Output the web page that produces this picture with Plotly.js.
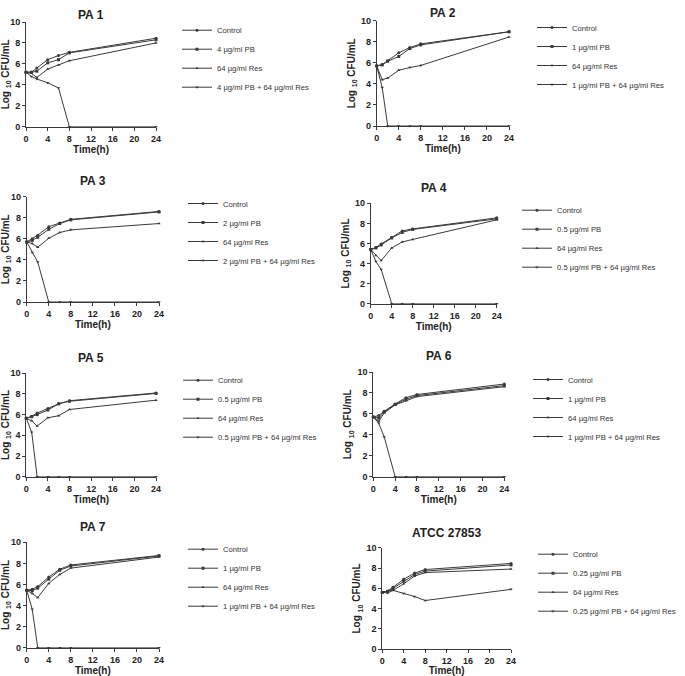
<!DOCTYPE html>
<html><head><meta charset="utf-8">
<script src="https://cdn.plot.ly/plotly-3.0.1.min.js"></script>
<style>html,body{margin:0;padding:0;background:#fff;overflow:hidden}#chart{width:685px;height:676px}</style>
</head><body><div id="chart"></div>
<script>
// ---------- data ----------
const times = [0, 1, 2, 4, 6, 8, 24];
const panelTitles = ['PA 1', 'PA 2', 'PA 3', 'PA 4', 'PA 5', 'PA 6', 'PA 7', 'ATCC 27853'];
const pbDoses = ['4', '1', '2', '0.5', '0.5', '1', '1', '0.25'];
const xTicks = [0, 4, 8, 12, 16, 20, 24];
const yTicks = [0, 2, 4, 6, 8, 10];

const pa1Control = [5.2, 5.2, 5.6, 6.4, 6.8, 7.1, 8.45];
const pa1PB      = [5.2, 5.2, 5.3, 6.1, 6.4, 7.05, 8.3];
const pa1Res     = [5.2, 5.1, 4.7, 5.5, 5.9, 6.3, 8.0];
const pa1Combo   = [5.2, 4.8, 4.55, 4.2, 3.7, 0, 0];

const pa2Control = [5.7, 5.85, 6.2, 6.95, 7.45, 7.8, 8.95];
const pa2PB      = [5.7, 5.8, 6.15, 6.6, 7.35, 7.7, 8.95];
const pa2Res     = [5.7, 4.4, 4.55, 5.3, 5.55, 5.75, 8.45];
const pa2Combo   = [5.7, 3.65, 0, 0, 0, 0, 0];

const pa3Control = [5.7, 6.0, 6.35, 7.15, 7.5, 7.85, 8.6];
const pa3PB      = [5.7, 5.85, 6.15, 6.9, 7.45, 7.8, 8.55];
const pa3Res     = [5.7, 5.55, 5.2, 6.05, 6.6, 6.85, 7.45];
const pa3Combo   = [5.7, 4.7, 3.8, 0, 0, 0, 0];

const pa4Control = [5.4, 5.6, 5.95, 6.6, 7.25, 7.45, 8.55];
const pa4PB      = [5.4, 5.55, 5.85, 6.55, 7.1, 7.4, 8.45];
const pa4Res     = [5.4, 4.8, 4.3, 5.55, 6.15, 6.4, 8.35];
const pa4Combo   = [5.4, 4.2, 3.4, 0, 0, 0, 0];

const pa5Control = [5.65, 5.85, 6.15, 6.6, 7.05, 7.35, 8.1];
const pa5PB      = [5.65, 5.8, 6.0, 6.45, 7.05, 7.3, 8.05];
const pa5Res     = [5.65, 5.4, 4.9, 5.7, 5.9, 6.5, 7.4];
const pa5Combo   = [5.65, 4.3, 0, 0, 0, 0, 0];

const pa6Control = [5.7, 5.85, 6.25, 6.95, 7.55, 7.85, 8.85];
const pa6PB      = [5.7, 5.6, 6.2, 6.9, 7.4, 7.75, 8.7];
const pa6Res     = [5.7, 5.3, 6.1, 6.85, 7.25, 7.65, 8.6];
const pa6Combo   = [5.7, 5.1, 3.8, 0, 0, 0, 0];

const pa7Control = [5.45, 5.55, 5.8, 6.7, 7.45, 7.85, 8.75];
const pa7PB      = [5.45, 5.4, 5.65, 6.5, 7.35, 7.75, 8.7];
const pa7Res     = [5.45, 5.15, 4.75, 6.1, 6.95, 7.55, 8.6];
const pa7Combo   = [5.45, 3.65, 0, 0, 0, 0, 0];

const atccControl = [5.6, 5.75, 6.1, 6.9, 7.5, 7.85, 8.45];
const atccPB      = [5.6, 5.7, 6.0, 6.7, 7.35, 7.7, 8.3];
const atccRes     = [5.6, 5.55, 5.8, 6.45, 7.2, 7.55, 7.9];
const atccCombo   = [5.6, 5.75, 5.8, 5.5, 5.2, 4.8, 5.9];

const panelData = [
  [pa1Control, pa1PB, pa1Res, pa1Combo],
  [pa2Control, pa2PB, pa2Res, pa2Combo],
  [pa3Control, pa3PB, pa3Res, pa3Combo],
  [pa4Control, pa4PB, pa4Res, pa4Combo],
  [pa5Control, pa5PB, pa5Res, pa5Combo],
  [pa6Control, pa6PB, pa6Res, pa6Combo],
  [pa7Control, pa7PB, pa7Res, pa7Combo],
  [atccControl, atccPB, atccRes, atccCombo]
];

// ---------- layout (pixel boxes) ----------
const W = 685, H = 676;
// plot area boxes [left, top, right, bottom] in px
const boxes = [
  [26, 22, 156, 126.7],
  [376.7, 20.7, 509, 126],
  [26.7, 196.7, 159, 302],
  [370.7, 203.3, 496.7, 303.7],
  [26.3, 373.3, 156, 476.7],
  [373.3, 372, 504.3, 476.7],
  [26.7, 542.3, 159, 647.7],
  [382.3, 547.7, 511, 649.3]
];
const titleY = [15, 13.5, 181, 188, 358, 356, 527, 533];
// legend: [text left x, first row center y]
const legendPos = [
  [217, 32.7], [572, 30], [223, 206], [557, 212.7],
  [218, 382.7], [568, 382], [223, 551.7], [573, 556.7]
];

const symbols = ['circle', 'square', 'triangle-up', 'triangle-down'];
const ink = '#3a3a3a';
const FONT = 'Liberation Sans, Arial, sans-serif';

const traces = [];
const layout = {
  width: W, height: H,
  margin: {l: 0, r: 0, t: 0, b: 0, autoexpand: false},
  paper_bgcolor: '#ffffff', plot_bgcolor: '#ffffff',
  showlegend: true,
  font: {family: FONT, color: '#222'},
  annotations: []
};

panelData.forEach((series, p) => {
  const k = p + 1;
  const xa = 'xaxis' + (k === 1 ? '' : k), ya = 'yaxis' + (k === 1 ? '' : k);
  const xr = 'x' + (k === 1 ? '' : k), yr = 'y' + (k === 1 ? '' : k);
  const lg = 'legend' + (k === 1 ? '' : k);
  const names = ['Control', pbDoses[p] + ' µg/ml PB', '64 µg/ml Res', pbDoses[p] + ' µg/ml PB + 64 µg/ml Res'];
  series.forEach((vals, s) => {
    traces.push({
      type: 'scatter', mode: 'lines+markers',
      x: times, y: vals, xaxis: xr, yaxis: yr, legend: lg,
      name: names[s],
      line: {color: ink, width: 1},
      marker: {symbol: symbols[s], size: 3, color: ink},
      cliponaxis: false
    });
  });
  const b = boxes[p];
  layout[xa] = {
    domain: [b[0] / W, b[2] / W], anchor: yr, range: [0, 24],
    tickvals: xTicks, ticks: 'outside', ticklen: 3, tickwidth: 1, tickcolor: ink,
    showline: true, linecolor: ink, linewidth: 1, showgrid: false, zeroline: false,
    tickfont: {size: 9, weight: 'bold', color: '#222'},
    title: {text: 'Time(h)', font: {size: 10, weight: 'bold', color: '#222'}, standoff: 3}
  };
  layout[ya] = {
    domain: [1 - b[3] / H, 1 - b[1] / H], anchor: xr, range: [0, 10],
    tickvals: yTicks, ticks: 'outside', ticklen: 3, tickwidth: 1, tickcolor: ink,
    showline: true, linecolor: ink, linewidth: 1, showgrid: false, zeroline: false,
    tickfont: {size: 9, weight: 'bold', color: '#222'},
    title: {text: 'Log <sub>10</sub> CFU/mL', font: {size: 10, weight: 'bold', color: '#222'}, standoff: 3}
  };
  layout.annotations.push({
    xref: 'paper', yref: 'paper', x: (b[0] + b[2]) / 2 / W, y: 1 - titleY[p] / H,
    xanchor: 'center', yanchor: 'middle', showarrow: false,
    text: panelTitles[p], font: {size: 12, weight: 'bold', color: '#222'}
  });
  const lp = legendPos[p];
  layout[lg] = {
    x: (lp[0] - 40) / W, y: 1 - (lp[1] - 17) / H, xanchor: 'left', yanchor: 'top',
    xref: 'paper', yref: 'paper',
    bgcolor: 'rgba(0,0,0,0)', borderwidth: 0, itemwidth: 30,
    font: {size: 7.7, color: '#333', family: FONT}
  };
});

Plotly.newPlot('chart', traces, layout, {staticPlot: true, displayModeBar: false});
</script>
</body></html>
